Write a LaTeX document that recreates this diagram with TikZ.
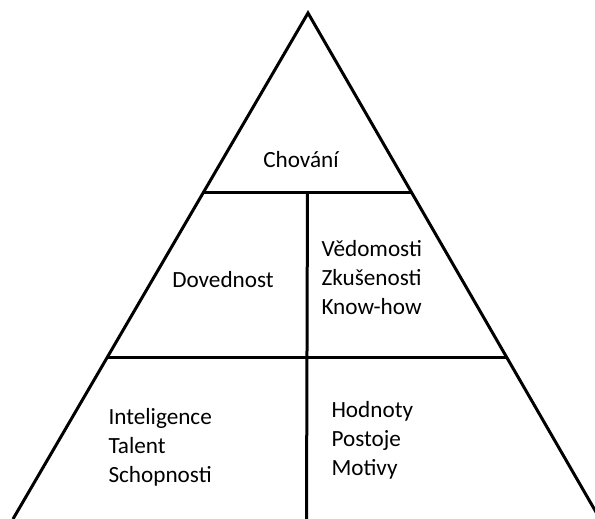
\documentclass[tikz,border=0pt]{standalone}
\usepackage{fontspec}
\setmainfont{Carlito}
\usetikzlibrary{calc}
\begin{document}
\begin{tikzpicture}[x=1pt,y=-1pt,line width=3pt]
            \tikzset{txt/.style={inner sep=0pt,font=\fontsize{23.2}{29}\selectfont,align=left}};
            \useasboundingbox (0,0) rectangle (595,519);
            \clip (0,0) rectangle (595,519);
            
            \coordinate (top) at (308,13);
            \coordinate (bl) at (13,519);
            \coordinate (br) at (600,519);
            \coordinate (l1) at ($(top)!0.3557!(bl)$);
            \coordinate (r1) at ($(top)!0.3557!(br)$);
            \coordinate (l2) at ($(top)!0.6818!(bl)$);
            \coordinate (r2) at ($(top)!0.6818!(br)$);
            \coordinate (m1) at ($(l1)!0.5!(r1)$);
            \coordinate (m2) at ($(bl)!0.5!(br)$);
            
            \draw[] (bl)--(top)--(br);
            \draw[] (l1)--(r1);
            \draw[] (l2)--(r2);
            \draw[] (m1)--(m2);
            
            % base anchor of a multi-line node sits on its last line
            \node[txt,anchor=base] (chovani) at (301,167) {Chování};
            \node[txt,anchor=base] (dovednost) at (223,287) {Dovednost};
            \node[txt,anchor=base west] (vedomosti) at (320,314) {Vědomosti\\Zkušenosti\\Know-how};
            \node[txt,anchor=base west] (inteligence) at (107,482) {Inteligence\\Talent\\Schopnosti};
            \node[txt,anchor=base west] (hodnoty) at (330,475) {Hodnoty\\Postoje\\Motivy};
        \end{tikzpicture}
\end{document}
